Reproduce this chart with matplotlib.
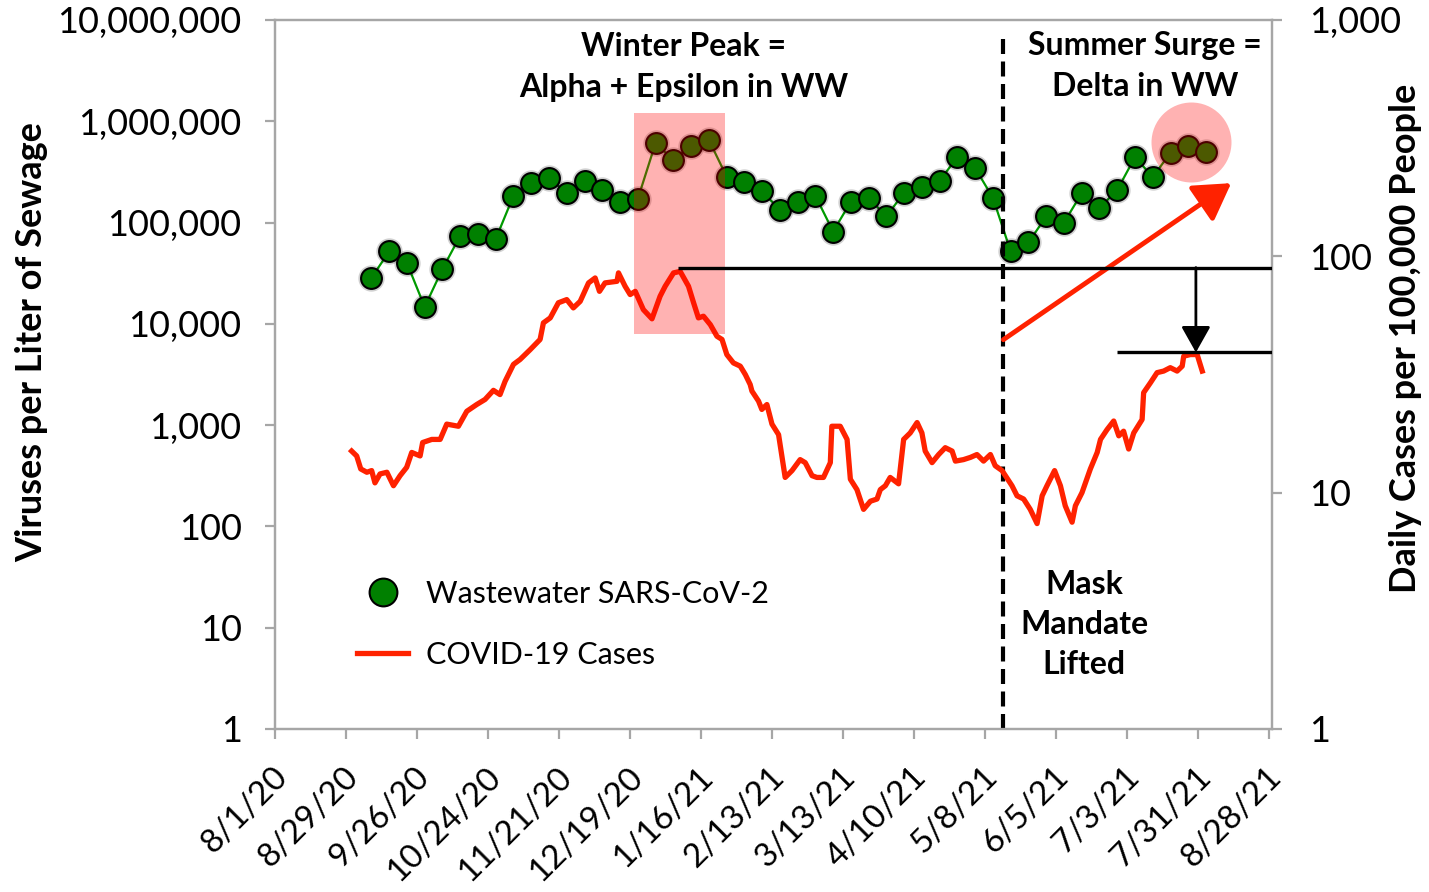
import matplotlib
matplotlib.use('Agg')
import matplotlib.pyplot as plt
import matplotlib.transforms as mtransforms
import numpy as np
import pandas as pd
from matplotlib.lines import Line2D
from matplotlib.patches import Rectangle

plt.rcParams['font.family'] = ['Lato', 'DejaVu Sans']

# ---------------- data ----------------
origin = pd.Timestamp('2020-08-01')

ww_first = '2020-09-08'
ww_values = [28400, 51900, 39900, 14700, 34800, 74100, 77600, 68800, 183700, 245000,
             275000, 195000, 258000, 210000, 161000, 171000, 608000, 416000, 571000, 656000,
             285000, 254000, 203000, 134000, 161000, 184000, 81600, 161000, 175000, 115000,
             198000, 227000, 260000, 443000, 345000, 175000, 51900, 63600, 115000, 100000,
             195000, 139000, 210000, 443000, 281000, 491000, 571000, 502000]

case_days = [30.2, 32.2, 33.8, 36.2, 38.1, 39.4, 41.4, 44.1, 46.7, 49.3, 51.9, 53.9, 57.2, 58.2,
             61.8, 65.1, 67.7, 72.3, 75.6, 79.5, 82.8, 86.1, 88.7, 90.7, 94.0, 96.6, 100.6, 104.5,
             105.8, 108.5, 111.7, 115.0, 117.6, 120.3, 123.6, 126.2, 127.9, 130.1, 134.8, 135.4,
             138.0, 140.0, 142.0, 145.2, 148.6, 151.8, 153.8, 157.1, 159.7, 163.0, 165.0, 166.9,
             168.9, 171.6, 174.2, 176.2, 178.1, 180.7, 183.4, 185.4, 187.3, 188.0, 190.6, 191.9,
             193.9, 195.9, 198.5, 201.1, 203.8, 207.0, 209.0, 211.7, 213.6, 216.2, 218.9, 219.5,
             222.8, 225.5, 226.8, 229.4, 232.0, 234.7, 237.3, 238.6, 240.6, 242.5, 245.8, 247.8,
             250.4, 253.1, 255.0, 256.3, 259.0, 261.6, 264.2, 266.9, 268.2, 271.4, 274.1, 276.7,
             279.3, 282.0, 283.9, 286.6, 287.9, 290.5, 292.5, 295.1, 297.7, 300.4, 302.4, 304.3,
             307.3, 309.6, 311.5, 314.2, 315.5, 318.1, 321.4, 324.1, 325.4, 328.0, 330.6, 332.6,
             334.5, 336.5, 338.5, 341.8, 342.4, 345.1, 347.7, 350.3, 352.9, 355.6, 357.6, 358.2,
             360.8, 363.5, 365.5]
case_values = [15.0, 14.3, 12.6, 12.2, 12.4, 11.0, 12.0, 12.2, 10.7, 11.8, 12.8, 14.8, 14.3, 16.3,
               16.8, 16.8, 19.5, 19.1, 22.1, 23.6, 24.8, 27.1, 26.0, 29.6, 34.9, 36.6, 40.3, 44.5,
               52.3, 54.9, 63.6, 65.6, 60.5, 64.5, 77.2, 81.0, 71.1, 77.2, 78.4, 85.1,
               74.7, 68.9, 71.1, 59.5, 54.4, 67.8, 74.7, 85.1, 86.4, 74.7, 63.6, 54.9,
               55.8, 51.4, 45.9, 44.5, 38.4, 35.4, 34.3, 31.6, 28.7, 26.9, 24.4, 22.5,
               23.6, 19.5, 17.6, 11.6, 12.4, 13.8, 13.4, 11.8, 11.6, 11.6, 13.4, 19.1,
               19.1, 16.8, 11.4, 10.3, 8.5, 9.2, 9.4, 10.3, 10.7, 11.6, 10.9, 16.8,
               17.9, 19.8, 17.9, 15.0, 13.4, 14.5, 15.5, 15.0, 13.6, 13.8, 14.1, 14.5,
               13.6, 14.5, 13.0, 12.4, 11.8, 10.7, 9.7, 9.4, 8.5, 7.4, 9.7, 10.7,
               12.4, 10.7, 8.8, 7.5, 8.8, 10.0, 12.6, 14.8, 16.8, 18.5, 20.1, 17.4,
               18.2, 15.3, 17.9, 20.4, 26.5, 29.2, 32.2, 32.7, 33.8, 32.7, 34.3, 37.8,
               38.4, 38.4, 32.7]

left_ticks = [1, 10, 100, 1000, 10000, 100000, 1000000, 10000000]
right_ticks = [1, 10, 100, 1000]
x_tick_dates = pd.date_range('2020-08-01', '2021-08-28', freq='28D')

mask_date = pd.Timestamp('2021-05-15')
peak_level = 89.6      # winter case peak (right axis)
summer_level = 39.2    # summer case level (right axis)

ww_dates = pd.date_range(ww_first, periods=len(ww_values), freq='7D')
case_dates = origin + pd.to_timedelta(case_days, unit='D')

# ---------------- figure ----------------
W, H = 1429, 892
fig = plt.figure(figsize=(W / 100, H / 100), dpi=100)
ax = fig.add_axes([275 / W, 1 - 729 / H, 997 / W, 709 / H])
ax2 = ax.twinx()

grey = '#A6A6A6'
red = '#FF2200'

ax.set_yscale('log')
ax2.set_yscale('log')
ax.set_ylim(1, 1e7)
ax2.set_ylim(1, 1000)
ax.set_xlim(origin, origin + pd.Timedelta(days=393))

for a in (ax, ax2):
    for s in a.spines.values():
        s.set_color(grey)
        s.set_linewidth(1.6)
    a.tick_params(which='both', color=grey, width=1.6, length=7, labelsize=26, direction='out')
    a.tick_params(which='minor', length=0)

ax.set_yticks(left_ticks)
ax.set_yticklabels([f'{v:,}' for v in left_ticks])
ax.tick_params(axis='y', pad=17)
ax2.set_yticks(right_ticks)
ax2.set_yticklabels([f'{v:,}' for v in right_ticks])
ax2.tick_params(axis='y', pad=20)
ax2.yaxis.set_minor_locator(matplotlib.ticker.NullLocator())
ax.yaxis.set_minor_locator(matplotlib.ticker.NullLocator())

ax.set_xticks(x_tick_dates)
ax.set_xticklabels([f'{d.month}/{d.day}/{d.year % 100}' for d in x_tick_dates],
                   rotation=45, ha='right', va='top', rotation_mode='anchor', fontsize=24)
offset = mtransforms.ScaledTranslation(-3 / 100, -18 / 100, fig.dpi_scale_trans)
for lbl in ax.get_xticklabels():
    lbl.set_transform(lbl.get_transform() + offset)

# wastewater series
ax.plot(ww_dates, ww_values, color='#009a00', lw=1.6, zorder=3)
ax.scatter(ww_dates, ww_values, s=360, color='black', alpha=0.18, zorder=3.5, linewidths=0)
ax.plot(ww_dates, ww_values, ls='none', marker='o', ms=15, mfc='#008000', mec='black',
        mew=1.5, zorder=4)

# cases series
ax2.plot(case_dates, case_values, color=red, lw=3.8, solid_joinstyle='round', zorder=3)

# shaded highlights (drawn over the points)
rect_x0 = origin + pd.Timedelta(days=141.6)
rect_w = 35.9
ax2.add_patch(Rectangle((matplotlib.dates.date2num(rect_x0), 46.7), rect_w, 404 - 46.7,
                        facecolor='red', alpha=0.3, lw=0, zorder=5))
ax2.scatter([origin + pd.Timedelta(days=361)], [306], s=3318, color='red', alpha=0.3,
            linewidths=0, zorder=5)

# mask mandate line
ax.axvline(mask_date, ymin=0, ymax=0.983, color='black', lw=3, ls=(0, (3.6, 1.8)), zorder=6)

# reference lines
ax2.plot([pd.Timestamp('2021-01-07'), origin + pd.Timedelta(days=393)], [peak_level, peak_level],
         color='black', lw=2.4, zorder=6, solid_capstyle='butt')
ax2.plot([pd.Timestamp('2021-06-29'), origin + pd.Timedelta(days=393)], [summer_level, summer_level],
         color='black', lw=2.4, zorder=6, solid_capstyle='butt')
ax2.annotate('', xy=(pd.Timestamp('2021-07-30'), summer_level),
             xytext=(pd.Timestamp('2021-07-30'), peak_level),
             arrowprops=dict(arrowstyle='-|>,head_length=0.8,head_width=0.45', color='black',
                             lw=2, mutation_scale=20, shrinkA=0, shrinkB=0), zorder=7)
# red trend arrow
ax.annotate('', xy=(origin + pd.Timedelta(days=376.9), 245000),
            xytext=(origin + pd.Timedelta(days=287.1), 6980),
            arrowprops=dict(arrowstyle='-|>,head_length=1.0,head_width=0.6', color=red,
                            lw=3.5, mutation_scale=22, shrinkA=0, shrinkB=0), zorder=7)

# texts
def axfrac(x, y):
    return (x - 275) / 997, (729 - y) / 709

tkw = dict(fontsize=23, fontweight='bold', ha='center', va='center', transform=ax.transAxes,
           zorder=8)
ax.text(*axfrac(684, 46), 'Winter Peak =', **tkw)
ax.text(*axfrac(684, 87), 'Alpha + Epsilon in WW', **tkw)
ax.text(*axfrac(1145, 46), 'Summer Surge =', **tkw)
ax.text(*axfrac(1145, 87), 'Delta in WW', **tkw)
ax.text(*axfrac(1084, 584), 'Mask', **tkw)
ax.text(*axfrac(1084, 625), 'Mandate', **tkw)
ax.text(*axfrac(1084, 665), 'Lifted', **tkw)

# legend
handles = [Line2D([], [], ls='none', marker='o', ms=20, mfc='#008000', mec='black', mew=1.5),
           Line2D([], [], color=red, lw=3.8)]
leg = ax.legend(handles, ['Wastewater SARS-CoV-2', 'COVID-19 Cases'], loc='upper left',
                bbox_to_anchor=axfrac(357, 580), frameon=False, fontsize=22,
                handlelength=1.67, handletextpad=0.6, labelspacing=1.08, borderaxespad=0,
                borderpad=0)

# axis titles
fig.text(32 / W, 1 - 342 / H, 'Viruses per Liter of Sewage', rotation=90, fontsize=26,
         fontweight='bold', ha='center', va='center')
fig.text(1405 / W, 1 - 338 / H, 'Daily Cases per 100,000 People', rotation=90, fontsize=26,
         fontweight='bold', ha='center', va='center')

fig.savefig('out.png', dpi=100)
